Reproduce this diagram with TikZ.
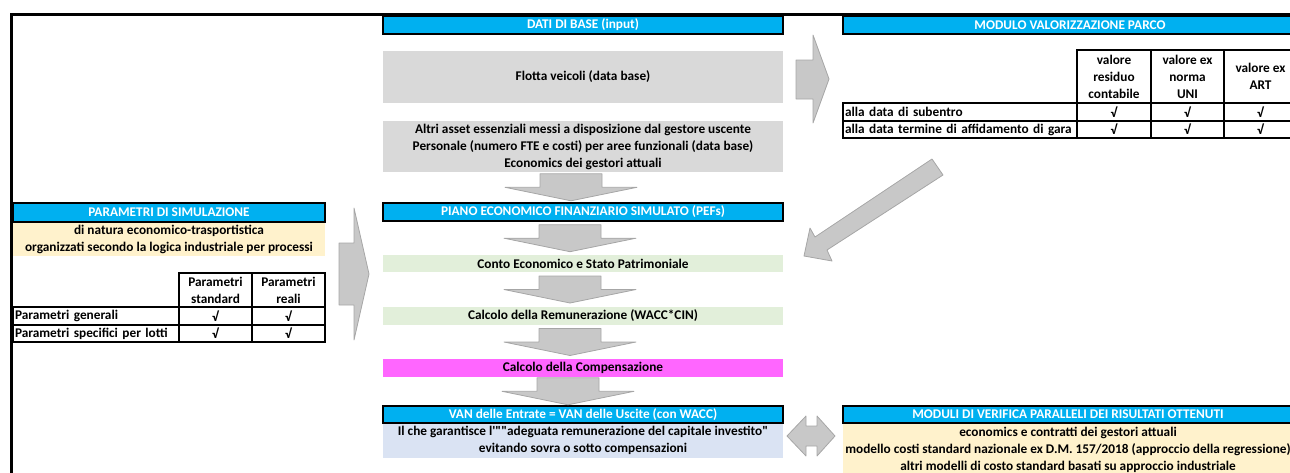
\documentclass[tikz,border=0pt]{standalone}
\usepackage{fontspec}
\setmainfont{Carlito}[Ligatures=TeXOff]
\usetikzlibrary{calc}
\definecolor{ciano}{RGB}{0,176,240}
\definecolor{grigio}{RGB}{217,217,217}
\definecolor{verdino}{RGB}{226,239,218}
\definecolor{fucsia}{RGB}{255,102,255}
\definecolor{azzurrino}{RGB}{218,227,243}
\definecolor{crema}{RGB}{255,242,204}
\definecolor{grigiofreccia}{RGB}{200,200,200}
\tikzset{
  testo/.style={font=\bfseries\fontsize{13.3}{17}\selectfont, align=center, inner sep=0pt},
  titolo/.style={testo, draw=black, line width=1.2, fill=ciano, text=white},
  riquadro/.style={testo, fill=#1},
  cella/.style={testo, draw=black, line width=1.2},
  freccia/.style={fill=grigiofreccia, draw=gray!70, line width=0.8, line join=round},
  giu/.pic={\draw[freccia] (-31,-13.5) -- (31,-13.5) -- (31,0) -- (66,0) -- (0,13.5) -- (-66,0) -- (-31,0) -- cycle;},
}

\begin{document}
\begin{tikzpicture}[x=1pt,y=-1pt]
  \useasboundingbox (0,0) rectangle (1290,472);
  %cornice
  \draw[line width=3.5] (11.5,480) -- (11.5,14.5) -- (1300,14.5);

  %DATI DI BASE
  \node[titolo, minimum width=400, minimum height=18] (dati) at (583,25) {DATI DI BASE (input)};
  \node[riquadro=grigio, minimum width=400, minimum height=52] (flotta) at (583,77) {Flotta veicoli (data base)};
  \node[riquadro=grigio, minimum width=400, minimum height=51] (altri) at (583,146.5) {Altri asset essenziali messi a disposizione dal gestore uscente\\Personale (numero FTE e costi) per aree funzionali (data base)\\Economics dei gestori attuali};

  %PEF
  \node[titolo, minimum width=400, minimum height=18] (pef) at (583,212) {PIANO ECONOMICO FINANZIARIO SIMULATO (PEFs)};
  \node[riquadro=verdino, minimum width=400, minimum height=17] (conto) at (583,263.5) {Conto Economico e Stato Patrimoniale};
  \node[riquadro=verdino, minimum width=400, minimum height=18] (remun) at (583,316) {Calcolo della Remunerazione (WACC*CIN)};
  \node[riquadro=fucsia, minimum width=400, minimum height=18] (compens) at (583,368) {Calcolo della Compensazione};
  \node[titolo, minimum width=400, minimum height=17] (van) at (583,414.5) {VAN delle Entrate = VAN delle Uscite (con WACC)};
  \node[riquadro=azzurrino, minimum width=400, minimum height=34, anchor=north] (garanzia) at (van.south) {Il che garantisce l'""adeguata remunerazione del capitale investito"\\evitando sovra o sotto compensazioni};

  %frecce verticali
  \pic at ($(altri.south)!0.5!(pef.north)+(-12,0)$) {giu};
  \pic at ($(pef.south)!0.5!(conto.north)+(-13,0)$) {giu};
  \pic at ($(conto.south)!0.5!(remun.north)+(-13,0)$) {giu};
  \pic at ($(remun.south)!0.5!(compens.north)+(-13,0)$) {giu};
  \pic at ($(compens.south)!0.5!(van.north)+(-15,0)$) {giu};

  %PARAMETRI
  \node[titolo, minimum width=312, minimum height=19] (param) at (169,212.5) {PARAMETRI DI SIMULAZIONE};
  \node[riquadro=crema, minimum width=312, minimum height=33, anchor=north] (natura) at (param.south) {di natura economico-trasportistica\\organizzati secondo la logica industriale per processi};
  \node[cella, minimum width=73, minimum height=34] (pstd) at (215.5,290) {Parametri\\standard};
  \node[cella, minimum width=73, minimum height=34] (preali) at (288.5,290) {Parametri\\reali};
  \node[cella, minimum width=166, minimum height=18, text width=162, align=left] (pgen) at (96,316) {Parametri generali};
  \node[cella, minimum width=166, minimum height=17, text width=162, align=left] (plotti) at (96,333.5) {Parametri specifici per lotti};
  \foreach \col/\cx in {std/215.5, reali/288.5} {
    \node[cella, minimum width=73, minimum height=18] (g\col) at (\cx,316) {√};
    \node[cella, minimum width=73, minimum height=17] (l\col) at (\cx,333.5) {√};
  }

  %VALORIZZAZIONE PARCO
  \node[titolo, minimum width=454, minimum height=18] (modulo) at (1070,25) {MODULO VALORIZZAZIONE PARCO};
  \node[cella, minimum width=74, minimum height=53] (vres) at (1114,76.5) {valore\\residuo\\contabile};
  \node[cella, minimum width=73, minimum height=53] (vuni) at (1187.5,76.5) {valore ex\\norma\\UNI};
  \node[cella, minimum width=73, minimum height=53] (vart) at (1260.5,76.5) {valore ex\\ART};
  \node[cella, minimum width=234, minimum height=18, text width=230, align=left] (subentro) at (960,112) {alla data di subentro};
  \node[cella, minimum width=234, minimum height=17, text width=230, align=left] (termine) at (960,129.5) {alla data termine di affidamento di gara};
  \foreach \col/\cx/\cw in {res/1114/74, uni/1187.5/73, art/1260.5/73} {
    \node[cella, minimum width=\cw, minimum height=18] (s\col) at (\cx,112) {√};
    \node[cella, minimum width=\cw, minimum height=17] (t\col) at (\cx,129.5) {√};
  }

  %VERIFICA
  \node[titolo, minimum width=450, minimum height=17] (verifica) at (1068,414.5) {MODULI DI VERIFICA PARALLELI DEI RISULTATI OTTENUTI};
  \node[riquadro=crema, minimum width=450, minimum height=52, anchor=north] (verificatxt) at (verifica.south) {economics e contratti dei gestori attuali\\modello costi standard nazionale ex D.M. 157/2018 (approccio della regressione)\\altri modelli di costo standard basati su approccio industriale};

  %frecce grandi
  \draw[freccia] (339,243) -- (354,243) -- (354,208) -- (369,274) -- (354,340) -- (354,305) -- (339,305) -- cycle;
  \draw[freccia] (796,60) -- (813,60) -- (813,35) -- (829,79) -- (813,123) -- (813,99) -- (796,99) -- cycle;
  \draw[freccia] (932,159) -- (943,175) -- (827,250) -- (832,261) -- (804,256) -- (810,228) -- (815,237) -- cycle;
  \draw[freccia] (787,436) -- (806,416) -- (806,426) -- (817,426) -- (817,416) -- (835,436) -- (817,456) -- (817,446) -- (806,446) -- (806,456) -- cycle;
\end{tikzpicture}
\end{document}
